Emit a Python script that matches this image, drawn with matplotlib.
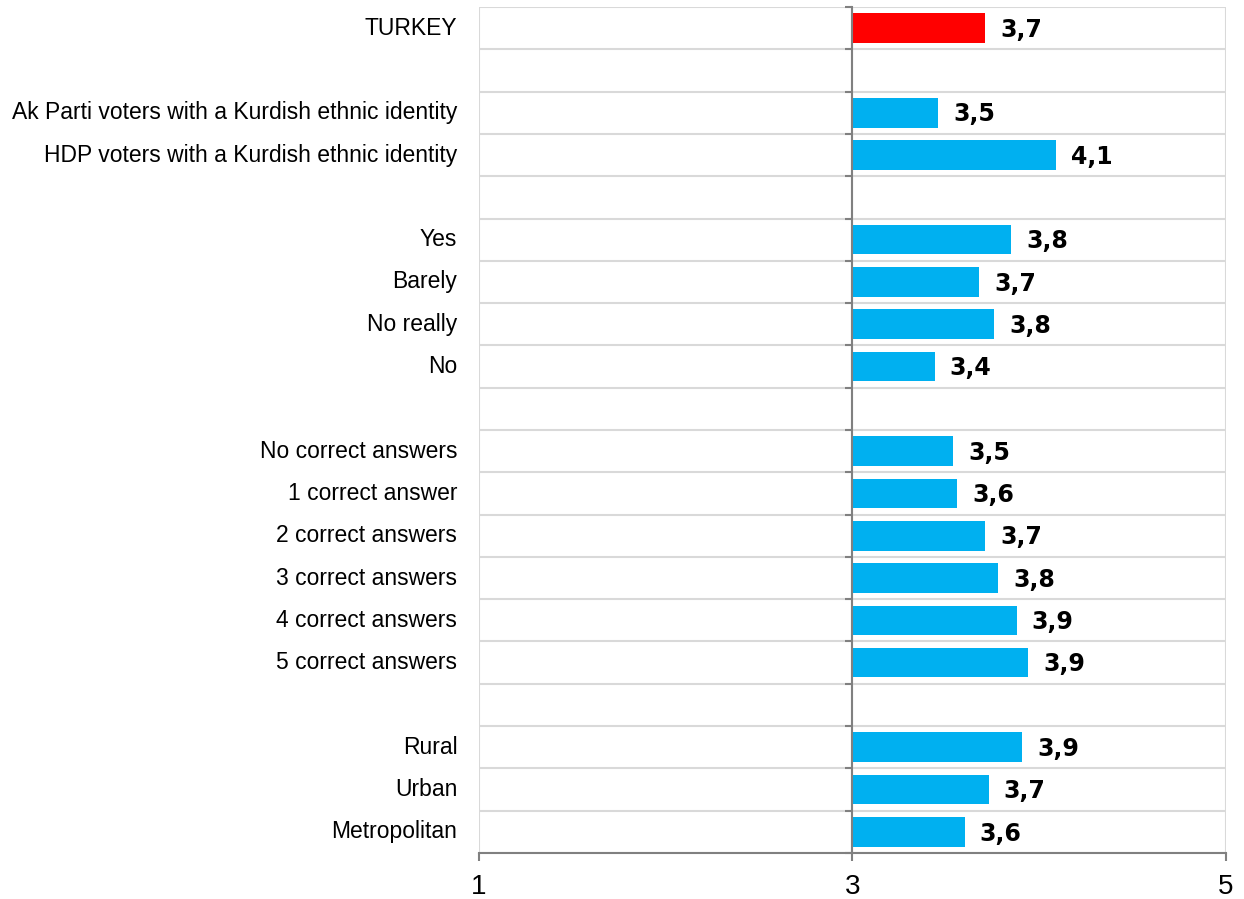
import numpy as np
import matplotlib.pyplot as plt

plt.rcParams["font.family"] = ["Liberation Sans", "DejaVu Sans"]

labels = ["TURKEY", "",
          "Ak Parti voters with a Kurdish ethnic identity",
          "HDP voters with a Kurdish ethnic identity", "",
          "Yes", "Barely", "No really", "No", "",
          "No correct answers", "1 correct answer", "2 correct answers",
          "3 correct answers", "4 correct answers", "5 correct answers", "",
          "Rural", "Urban", "Metropolitan"]
values = [3.71, None, 3.46, 4.09, None, 3.85, 3.68, 3.76, 3.44, None,
          3.54, 3.56, 3.71, 3.78, 3.88, 3.94, None, 3.91, 3.73, 3.60]
shown = ["3,7", "", "3,5", "4,1", "", "3,8", "3,7", "3,8", "3,4", "",
         "3,5", "3,6", "3,7", "3,8", "3,9", "3,9", "", "3,9", "3,7", "3,6"]

base = 3
fig = plt.figure(figsize=(12.44, 8.99), dpi=100)
ax = fig.add_axes([0.385, 0.0512, 0.6005, 0.9410])

n = len(labels)
for i, v in enumerate(values):
    if v is None:
        continue
    col = "#ff0000" if i == 0 else "#00b0f0"
    ax.barh(i, v - base, left=base, height=0.7, color=col, zorder=3)
    ax.text(v + 0.08, i + 0.04, shown[i], va="center", ha="left", fontsize=17,
            fontweight="heavy", family="DejaVu Sans", color="black")

ax.set_xlim(1, 5)
ax.set_ylim(n - 0.5, -0.5)
ax.set_xticks([1, 3, 5])
ax.set_xticklabels(["1", "3", "5"], fontsize=20)
ax.tick_params(axis="x", length=6, width=1.5, color="#808080", pad=9)

# row separators as minor ticks; names are drawn as plain text below
ax.set_yticks([])
ax.set_yticks(np.arange(-0.5, n, 1), minor=True)
ax.tick_params(axis="y", which="minor", length=5, width=1.5, color="#808080")

ax.grid(axis="y", which="minor", color="#d9d9d9", linewidth=1.5, zorder=0)
ax.grid(axis="x", which="major", color="#d9d9d9", linewidth=1.5, zorder=0)

for s in ["top", "right"]:
    ax.spines[s].set_visible(False)
ax.spines["left"].set_position(("data", base))
ax.spines["left"].set_color("#808080")
ax.spines["left"].set_linewidth(1.5)
ax.spines["left"].set_zorder(4)
ax.spines["bottom"].set_color("#808080")
ax.spines["bottom"].set_linewidth(1.5)

for i, t in enumerate(labels):
    ax.text(-0.029, i, t, transform=ax.get_yaxis_transform(), ha="right",
            va="center", fontsize=16.5)

fig.savefig("out.png", dpi=100)
